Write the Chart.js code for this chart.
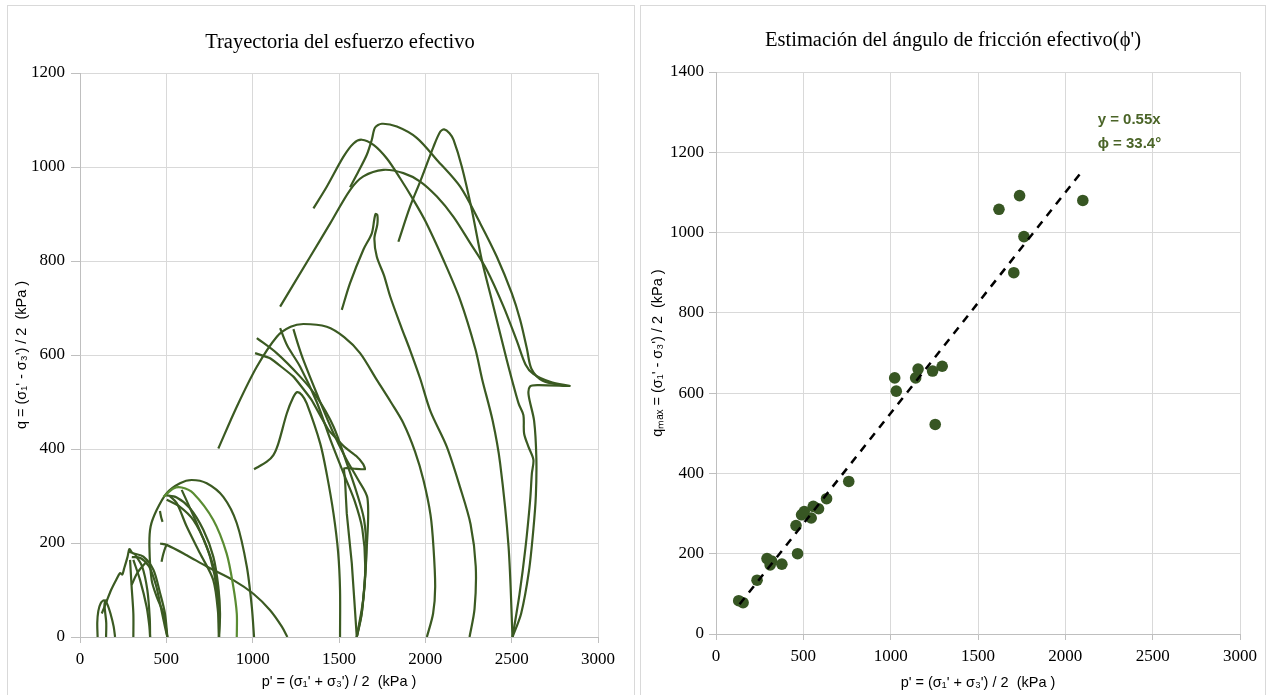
<!DOCTYPE html>
<html>
<head>
<meta charset="utf-8">
<script src="https://cdn.jsdelivr.net/npm/chart.js@4.4.1/dist/chart.umd.min.js"></script>
<style>
  html, body { margin: 0; padding: 0; background: #fff; }
  body { width: 1271px; height: 695px; position: relative; overflow: hidden; }
  .panel { position: absolute; top: 5px; height: 700px; border: 1px solid #d9d9d9; box-sizing: border-box; }
  #leftPanel { left: 7px; width: 628px; }
  #rightPanel { left: 640px; width: 626px; }
  canvas { position: absolute; top: 0; }
  #pathChart { left: 0; }
  #phiChart { left: 637px; }
</style>
</head>
<body>
<div class="panel" id="leftPanel"></div>
<div class="panel" id="rightPanel"></div>
<canvas id="pathChart" width="637" height="695"></canvas>
<canvas id="phiChart" width="634" height="695"></canvas>
<script>
// ===================== DATA: stress paths (p', q) kPa =====================
// high group
const path990 = [[1159,703],[1333,809],[1449,880],[1564,951],[1641,980],[1757,994],[1873,987],[1970,969],[2067,937],[2163,894],[2260,838],[2356,781],[2453,703],[2530,630],[2580,580],[2625,560],[2723,543],[2840,534]];
const path2500v = [[2840,534],[2650,536],[2606,533],[2598,515],[2630,460],[2643,380],[2640,300],[2626,230],[2600,140],[2555,50],[2505,0]];
const path1092 = [[1564,957],[1613,991],[1661,1026],[1690,1058],[1709,1084],[1748,1092],[1835,1086],[1950,1062],[2067,1015],[2202,958],[2318,880],[2414,809],[2501,731],[2549,675],[2588,614],[2615,570],[2680,545],[2800,535]];
const path1058 = [[1352,912],[1429,958],[1526,1022],[1584,1050],[1632,1058],[1700,1047],[1777,1018],[1854,976],[1931,930],[2000,885],[2105,802],[2202,717],[2289,614],[2330,547],[2390,460],[2433,370],[2482,192],[2505,0]];
const path1080 = [[1844,841],[1912,916],[1970,969],[2047,1043],[2086,1075],[2109,1080],[2140,1072],[2163,1058],[2211,1001],[2269,909],[2327,802],[2385,717],[2472,589],[2540,497],[2568,472],[2572,433],[2597,405],[2626,377],[2617,348],[2607,291],[2580,190],[2545,90],[2505,0]];
const path900 = [[1516,696],[1564,753],[1641,824],[1690,859],[1705,890],[1712,900],[1722,898],[1722,878],[1705,848],[1719,809],[1760,770],[1796,725],[1860,660],[1912,610],[1970,550],[2030,480],[2124,405],[2200,320],[2262,240],[2292,150],[2285,60],[2256,0]];
const path665 = [[801,401],[908,490],[1024,575],[1140,639],[1220,660],[1294,666],[1429,660],[1530,638],[1622,604],[1719,547],[1800,500],[1873,455],[1940,395],[1989,334],[2030,260],[2047,192],[2057,107],[2045,50],[2009,0]];
// middle group
const path520 = [[1008,357],[1082,373],[1120,387],[1149,412],[1198,476],[1235,510],[1258,521],[1285,515],[1313,497],[1391,412],[1430,345],[1468,263],[1495,180],[1506,100],[1506,0]];
const pathMa = [[1024,636],[1139,604],[1275,554],[1371,511],[1468,448],[1545,370],[1600,310],[1645,250],[1658,180],[1640,80],[1603,0]];
const pathMb = [[1014,604],[1101,593],[1236,554],[1340,505],[1440,440],[1530,405],[1600,385],[1640,368],[1651,357],[1590,358],[1530,359],[1535,334],[1545,263],[1574,157],[1603,0]];
const pathMc = [[1159,657],[1200,620],[1275,575],[1371,500],[1450,420],[1530,345],[1590,290],[1635,230],[1652,150],[1635,60],[1603,0]];
const pathMd = [[1236,655],[1265,620],[1294,589],[1371,518],[1460,440],[1540,380],[1610,335],[1665,295],[1661,192],[1632,50],[1603,0]];
// low group
const path335 = [[506,0],[483,50],[444,86],[415,121],[402,192],[409,235],[444,270],[502,306],[579,327],[647,334],[734,327],[830,298],[908,242],[966,150],[995,64],[1008,0]];
const pathLight = [[483,298],[541,316],[589,318],[656,306],[772,249],[849,178],[888,107],[908,50],[908,0]];
const path800a = [[492,302],[560,297],[637,274],[714,228],[772,171],[801,107],[811,50],[805,0]];
const path800b = [[502,292],[579,277],[656,249],[734,192],[792,121],[808,50],[805,0]];
const path800c = [[520,300],[560,285],[618,235],[695,178],[772,121],[800,50],[805,0]];
const path800d = [[589,313],[630,280],[676,242],[753,171],[796,92],[805,0]];
const path1200 = [[464,199],[502,196],[618,174],[734,150],[888,121],[1004,92],[1101,57],[1169,22],[1201,0]];
const hookA = [[463,268],[470,255],[478,245]];
const hookB = [[472,160],[482,176],[494,190],[502,196]];
const hookC = [[299,111],[330,135],[360,150],[386,160]];
const path180a = [[280,182],[309,178],[367,171],[425,143],[464,93],[492,50],[506,0]];
const path180b = [[300,170],[350,168],[400,150],[440,110],[470,60],[492,22],[506,0]];
const path180c = [[309,164],[348,121],[386,64],[402,22],[406,0]];
const path180d = [[290,164],[299,107],[309,50],[309,0]];
const path180e = [[320,175],[360,150],[390,100],[404,40],[406,0]];
const path100 = [[102,0],[100,30],[106,55],[120,72],[140,78],[158,70],[178,48],[195,22],[203,0]];
const path150 = [[151,0],[152,30],[145,55],[142,70],[150,78],[160,76]];
const pathEnv = [[126,50],[150,72],[180,100],[210,122],[232,136],[245,133],[255,145],[275,170],[286,187],[300,180]];

const darkPaths = [path990, path2500v, path1092, path1058, path1080, path900, path665,
    path520, pathMa, pathMc, pathMd,
    path335, path800a, path800b, path800c, path800d, path1200, hookA, hookB, hookC,
    path180a, path180b, path180c, path180d, path180e, path100, path150, pathEnv];
const sharpPaths = [pathMb];
const lightPaths = [pathLight];

// ===================== DATA: peak points (right plot) =====================
const peakP = [130, 155, 235, 292, 318, 310, 377, 458, 467, 490, 505, 545, 557, 587, 633, 760,
    1023, 1032, 1143, 1157, 1240, 1295, 1255, 1620, 1738, 2100, 1763, 1705];
const peakQ = [83, 78, 134, 188, 182, 172, 174, 270, 200, 297, 305, 289, 318, 312, 337, 380,
    638, 605, 638, 660, 655, 667, 522, 1058, 1092, 1080, 990, 900];
const trendP = [135, 2100];
const trendQ = [74, 1155];
const trendText = ['y = 0.55x', 'ϕ = 33.4°'];

const pTicks = [0, 500, 1000, 1500, 2000, 2500, 3000];
const qTicksPath = [0, 200, 400, 600, 800, 1000, 1200];
const qTicksPhi = [0, 200, 400, 600, 800, 1000, 1200, 1400];

// ===================== STYLE =====================
const LINE_DARK = '#3b5a22';
const LINE_LIGHT = '#5a8c32';
const MARKER = '#375623';
const LABEL_GREEN = '#4a6427';
const tickFont = { family: '"Liberation Serif", "Times New Roman", serif', size: 17 };
const axisTitleFont = { family: '"Liberation Sans", Arial, sans-serif', size: 14.5 };

function axis(ticks, text, isX, fitSize, tickLen, tickPad, titlePad) {
    return {
        type: 'linear',
        min: ticks[0],
        max: ticks[ticks.length - 1],
        afterBuildTicks: s => { s.ticks = ticks.map(v => ({ value: v })); },
        afterFit: s => { if (isX) s.height = fitSize; else s.width = fitSize; },
        grid: { color: '#d9d9d9', tickColor: '#bfbfbf', tickLength: tickLen, lineWidth: 1 },
        border: { color: '#bfbfbf', width: 1 },
        ticks: {
            color: '#000', font: tickFont, padding: tickPad, maxRotation: 0, autoSkip: false,
            callback: v => String(v)
        },
        title: { display: true, text: text, color: '#000', font: axisTitleFont, padding: titlePad }
    };
}

function titlePlugin(text, cx, cy) {
    return {
        id: 'ownTitle',
        afterDraw(chart) {
            const ctx = chart.ctx;
            ctx.save();
            ctx.font = '20.5px "Liberation Serif", "Times New Roman", serif';
            ctx.fillStyle = '#000';
            ctx.textAlign = 'center';
            ctx.textBaseline = 'middle';
            ctx.fillText(text, cx, cy);
            ctx.restore();
        }
    };
}

const toXY = arr => arr.map(pt => ({ x: pt[0], y: pt[1] }));

// ===================== LEFT: stress paths =====================
const pathSets = [];
lightPaths.forEach(p => pathSets.push({ data: toXY(p), showLine: true, borderColor: LINE_LIGHT, borderWidth: 2.2, pointRadius: 0, tension: 0.3 }));
darkPaths.forEach(p => pathSets.push({ data: toXY(p), showLine: true, borderColor: LINE_DARK, borderWidth: 2.2, pointRadius: 0, tension: 0.3 }));
sharpPaths.forEach(p => pathSets.push({ data: toXY(p), showLine: true, borderColor: LINE_DARK, borderWidth: 2.2, pointRadius: 0, tension: 0.1 }));

new Chart(document.getElementById('pathChart'), {
    type: 'scatter',
    data: { datasets: pathSets },
    options: {
        responsive: false,
        animation: false,
        layout: { padding: { left: 8, right: 39, top: 73, bottom: 3 } },
        plugins: { legend: { display: false }, tooltip: { enabled: false } },
        scales: {
            x: axis(pTicks, "p' = (σ₁' + σ₃') / 2  (kPa )", true, 55, 6, 6, { bottom: 1 }),
            y: axis(qTicksPath, "q = (σ₁' - σ₃') / 2  (kPa )", false, 72, 9, 6, { top: 5 })
        }
    },
    plugins: [titlePlugin('Trayectoria del esfuerzo efectivo', 340, 43)]
});

// ===================== RIGHT: friction angle =====================
const labelAt = [2185, 1282, 1222];

const phiLabel = {
    id: 'phiLabel',
    afterDatasetsDraw(chart) {
        const { ctx, scales: { x, y } } = chart;
        ctx.save();
        ctx.fillStyle = LABEL_GREEN;
        ctx.font = 'bold 15px "Liberation Sans", Arial, sans-serif';
        ctx.textAlign = 'left';
        ctx.textBaseline = 'middle';
        ctx.fillText(trendText[0], x.getPixelForValue(labelAt[0]), y.getPixelForValue(labelAt[1]));
        ctx.fillText(trendText[1], x.getPixelForValue(labelAt[0]), y.getPixelForValue(labelAt[2]));
        ctx.restore();
    }
};

new Chart(document.getElementById('phiChart'), {
    type: 'scatter',
    data: {
        datasets: [
            {
                data: trendP.map((p, i) => ({ x: p, y: trendQ[i] })),
                showLine: true, borderColor: '#000', borderWidth: 2.5, borderDash: [8, 7],
                pointRadius: 0, tension: 0
            },
            {
                data: peakP.map((p, i) => ({ x: p, y: peakQ[i] })),
                backgroundColor: MARKER, borderColor: MARKER, pointRadius: 5.8, borderWidth: 0
            }
        ]
    },
    options: {
        responsive: false,
        animation: false,
        layout: { padding: { left: 8, right: 31, top: 72, bottom: 3 } },
        plugins: { legend: { display: false }, tooltip: { enabled: false } },
        scales: {
            x: axis(pTicks, "p' = (σ₁' + σ₃') / 2  (kPa )", true, 58, 6, 6, { bottom: 0 }),
            y: axis(qTicksPhi, "qₘₐₓ = (σ₁' - σ₃') / 2  (kPa )", false, 71, 7, 5, { top: 4 })
        }
    },
    plugins: [phiLabel, titlePlugin("Estimación del ángulo de fricción efectivo(ϕ')", 316, 41)]
});
</script>
</body>
</html>
